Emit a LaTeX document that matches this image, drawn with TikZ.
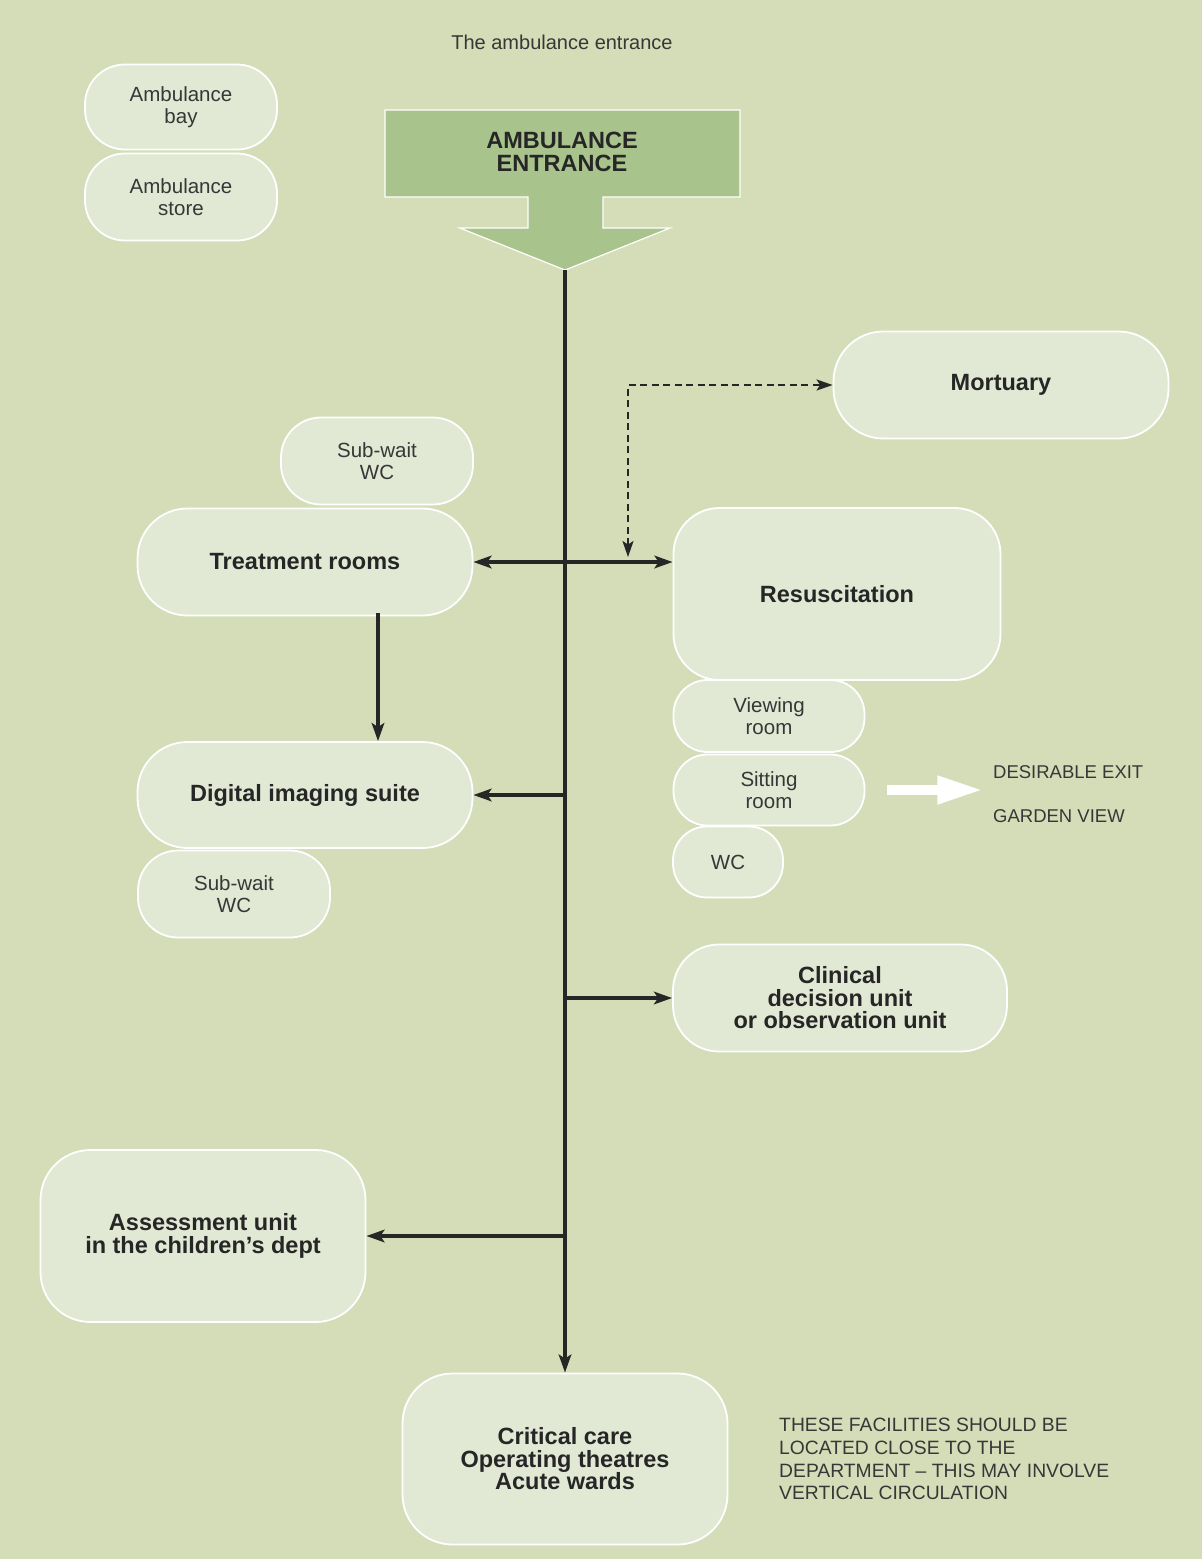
\documentclass[tikz,border=0pt]{standalone}
\usepackage{fontspec}
\setmainfont{Liberation Sans}
\usetikzlibrary{arrows.meta}

\definecolor{pagegreen}{RGB}{212,221,184}
\definecolor{roomfill}{RGB}{225,232,212}
\definecolor{entrygreen}{RGB}{168,195,139}
\definecolor{inkgrey}{RGB}{38,38,38}
\definecolor{labelgrey}{RGB}{55,55,55}

\newcommand\regsize{\fontsize{20.5}{22.5}\selectfont}
\newcommand\boldsize{\fontsize{23.5}{22.5}\selectfont\bfseries}
\newcommand\capsize{\fontsize{18.5}{22.7}\selectfont}

\tikzset{
  room/.style={draw=white, line width=1.8pt, fill=roomfill, rounded corners=#1,
               inner sep=0pt, align=center, text=inkgrey},
  room/.default=40pt,
  minor/.style={font=\regsize, text=labelgrey},
  major/.style={font=\boldsize},
  flow/.style={draw=inkgrey, line width=3.6pt, -{Stealth[length=18pt,width=12.5pt,inset=4pt]}},
  flowboth/.style={draw=inkgrey, line width=3.6pt,
                   {Stealth[length=18pt,width=12.5pt,inset=4pt]}-{Stealth[length=18pt,width=12.5pt,inset=4pt]}},
  linkdash/.style={draw=inkgrey, line width=2pt, dash pattern=on 7pt off 4.5pt,
                   {Stealth[length=16pt,width=11pt,inset=3.5pt]}-{Stealth[length=16pt,width=11pt,inset=3.5pt]}},
  exitarrow/.style={draw=white, line width=10pt, -{Triangle[length=46pt,width=26pt]}},
  note/.style={inner sep=0pt, text=labelgrey, font=\capsize, align=left}
}

\begin{document}
\begin{tikzpicture}[x=1pt,y=-1pt]
  % page
  \fill[pagegreen] (0,0) rectangle (1202,1559);
  \useasboundingbox (0,0) rectangle (1202,1559);

  % heading
  \node[inner sep=0pt, font=\fontsize{20}{22}\selectfont, text=labelgrey] (title) at (562,42) {The ambulance entrance};

  % entrance block arrow
  \filldraw[fill=entrygreen, draw=white, line width=1.2pt]
    (385,110) -- (740,110) -- (740,197) -- (603,197) -- (603,228) -- (670,228)
    -- (565,270) -- (460,228) -- (528,228) -- (528,197) -- (385,197) -- cycle;
  \node[inner sep=0pt, major, align=center, text=inkgrey] (entrance) at (562,152) {AMBULANCE\\ENTRANCE};
  \coordinate (entry) at (565,270);

  % ambulance bay and store
  \node[room=40pt, minor, minimum width=192pt, minimum height=85pt] (bay) at (181,107) {Ambulance\\bay};
  \node[room=40pt, minor, minimum width=192pt, minimum height=87pt] (store) at (181,197) {Ambulance\\store};

  % right-hand rooms
  \node[room=50pt, major, minimum width=335pt, minimum height=107pt] (mort) at (1001,385) {Mortuary};
  \node[room=46pt, major, minimum width=327pt, minimum height=172pt] (resus) at (837,594) {Resuscitation};
  \node[room=34pt, minor, minimum width=191pt, minimum height=72pt] (view) at (769,716) {Viewing\\room};
  \node[room=34pt, minor, minimum width=191pt, minimum height=71pt] (sit) at (769,790) {Sitting\\room};
  \node[room=34pt, minor, minimum width=110pt, minimum height=71pt] (wcr) at (728,862) {WC};
  \node[room=46pt, major, minimum width=334pt, minimum height=107pt] (clin) at (840,998) {Clinical\\decision unit\\or observation unit};

  % left-hand rooms
  \node[room=40pt, minor, minimum width=192pt, minimum height=87pt] (subA) at (377,461) {Sub-wait\\WC};
  \node[room=50pt, major, minimum width=335pt, minimum height=107pt] (treat) at (305,562) {Treatment rooms};
  \node[room=50pt, major, minimum width=335pt, minimum height=106pt] (dig) at (305,795) {Digital imaging suite};
  \node[room=40pt, minor, minimum width=192pt, minimum height=87pt] (subB) at (234,894) {Sub-wait\\WC};
  \node[room=50pt, major, minimum width=325pt, minimum height=172pt] (assess) at (203,1236) {Assessment unit\\in the children’s dept};

  % destination at the foot of the spine
  \node[room=50pt, major, minimum width=325pt, minimum height=171pt] (crit) at (565,1459) {Critical care\\Operating theatres\\Acute wards};

  % side notes
  \node[note, anchor=west] (exitA) at (993,772) {DESIRABLE EXIT};
  \node[note, anchor=west] (exitB) at (993,816) {GARDEN VIEW};
  \node[note, anchor=west, font=\fontsize{19.3}{22.7}\selectfont] (closeby) at (779,1459)
    {THESE FACILITIES SHOULD BE\\LOCATED CLOSE TO THE\\DEPARTMENT -- THIS MAY INVOLVE\\VERTICAL CIRCULATION};

  % main circulation spine
  \draw[flow] (entry) -- (crit.north);

  % branches off the spine
  \draw[flowboth] (treat.east) -- (resus.west |- treat.east);
  \draw[flow] (entry |- dig.east) -- (dig.east);
  \draw[flow] (entry |- clin.west) -- (clin.west);
  \draw[flow] (entry |- assess.east) -- (assess.east);

  % treatment to imaging
  \coordinate (tdx) at (378,0);
  \draw[flow] ([yshift=3pt]treat.south -| tdx) -- (dig.north -| tdx);

  % mortuary link
  \coordinate (dlow) at (628,557);
  \coordinate (dcorner) at (628,385);
  \draw[linkdash] (dlow) -- (dcorner) -- (mort.west);

  % exit from the sitting room
  \draw[exitarrow] ([xshift=22pt]sit.east) -- ([xshift=118pt]sit.east);
\end{tikzpicture}
\end{document}
